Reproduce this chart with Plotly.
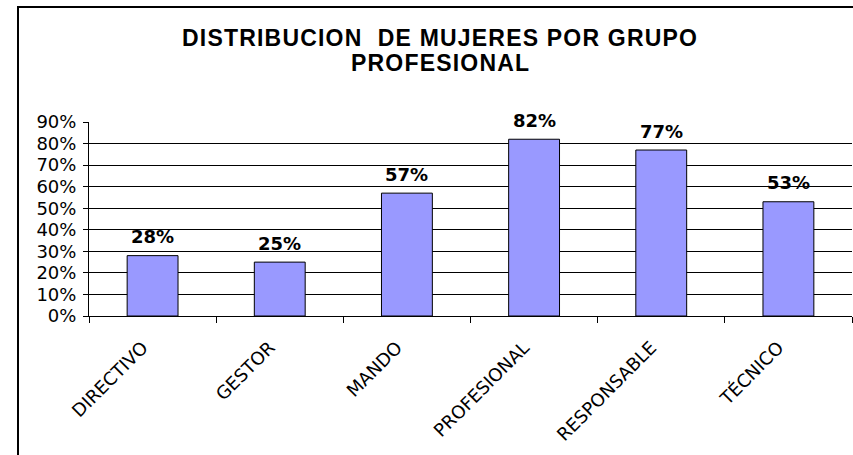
import plotly.graph_objects as go

categories = ["DIRECTIVO", "GESTOR", "MANDO", "PROFESIONAL", "RESPONSABLE", "TÉCNICO"]
values = [0.28, 0.25, 0.57, 0.82, 0.77, 0.53]
value_labels = ["28%", "25%", "57%", "82%", "77%", "53%"]
tick_values = [0, 0.1, 0.2, 0.3, 0.4, 0.5, 0.6, 0.7, 0.8, 0.9]
tick_labels = ["0%", "10%", "20%", "30%", "40%", "50%", "60%", "70%", "80%", "90%"]
grid_values = [0.1, 0.2, 0.3, 0.4, 0.5, 0.6, 0.7, 0.8]
title_lines = ["DISTRIBUCION\u00a0\u00a0DE MUJERES POR GRUPO", "PROFESIONAL"]

W, H = 853, 455
ML, MR, MT, MB = 89, 1, 122, 139
pw = W - ML - MR
ph = H - MT - MB


def py(page_y):
    return (H - MB - page_y) / ph


def px(page_x):
    return (page_x - ML) / pw


fig = go.Figure()
fig.add_trace(go.Bar(
    x=categories, y=values, width=0.4,
    marker=dict(color="#9999FF", line=dict(color="#000000", width=1)),
    hoverinfo="skip",
))
# empty helper trace so the grid-only overlay axis is drawn
fig.add_trace(go.Scatter(x=[], y=[], yaxis="y2", mode="markers", hoverinfo="skip", showlegend=False))

for c, v, t in zip(categories, values, value_labels):
    fig.add_annotation(x=c, y=v, text="<b>" + t + "</b>", showarrow=False, yanchor="middle", yshift=19,
                       font=dict(family="DejaVu Sans", size=18, color="#000000"),
                       xref="x", yref="y")

sp = '<span style="letter-spacing:1.2px">'
for i, line in enumerate(title_lines):
    fig.add_annotation(x=px(440), y=py(38 + 25 * i), xref="paper", yref="paper",
                       xanchor="center", yanchor="middle", showarrow=False,
                       text="<b>" + sp + line + "</span></b>",
                       font=dict(family="Liberation Sans", size=23, color="#000000"))

fig.update_layout(
    width=W, height=H,
    margin=dict(l=ML, r=MR, t=MT, b=MB, pad=0),
    paper_bgcolor="#FFFFFF", plot_bgcolor="#FFFFFF",
    showlegend=False,
    xaxis=dict(showline=True, linecolor="#000000", linewidth=1, ticks="outside", ticklen=6,
               tickcolor="#000000", tickson="boundaries", tickangle=-45,
               ticklabelstandoff=13, ticklabelshift=-10,
               tickfont=dict(family="DejaVu Sans", size=18, color="#000000"),
               showgrid=False, zeroline=False, fixedrange=True, automargin=False),
    yaxis=dict(range=[0, 0.9], tickvals=tick_values, ticktext=tick_labels,
               showline=True, linecolor="#000000", linewidth=1, ticks="outside", ticklen=5,
               tickcolor="#000000", ticklabelstandoff=3,
               tickfont=dict(family="DejaVu Sans", size=18, color="#000000"),
               showgrid=False, zeroline=False, fixedrange=True, automargin=False),
    yaxis2=dict(range=[0, 0.9], overlaying="y", tickvals=grid_values, showticklabels=False,
                showgrid=True, gridcolor="#000000", gridwidth=1, zeroline=False, ticks="",
                showline=False, fixedrange=True, automargin=False),
)

# outer chart border (left and top edges visible; it extends past the picture)
fig.add_shape(type="line", xref="paper", yref="paper",
              x0=px(18), x1=px(18), y0=-2, y1=py(6),
              line=dict(color="#000000", width=2))
fig.add_shape(type="line", xref="paper", yref="paper",
              x0=px(17), x1=1.2, y0=py(7), y1=py(7),
              line=dict(color="#000000", width=2))

fig.write_html("out.html", config={"displayModeBar": False},
               post_script="document.body.style.margin='0';")
